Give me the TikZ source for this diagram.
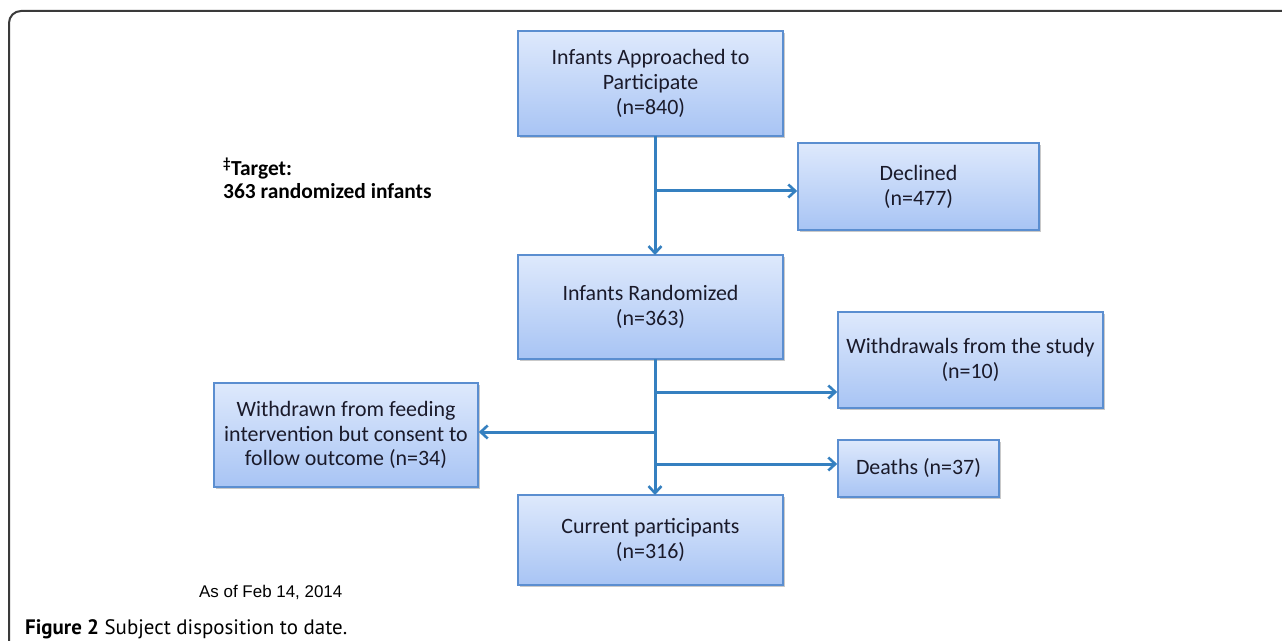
\documentclass[tikz,border=0pt]{standalone}
\usepackage{fontspec}
\setmainfont{Carlito}
\newfontfamily\capfont{PT Sans}
\newfontfamily\arialfont{Liberation Sans}
\usetikzlibrary{arrows.meta,shadows,calc}
\definecolor{boxtop}{HTML}{DEE9FC}
\definecolor{boxbot}{HTML}{A8C4F4}
\definecolor{boxline}{HTML}{5B8ED0}
\definecolor{arrowc}{HTML}{3580C0}
\definecolor{txtc}{HTML}{1A1A2A}
\definecolor{framec}{HTML}{3A3A3A}
\begin{document}
\begin{tikzpicture}[x=1bp,y=-1bp,
  flowbox/.style={draw=boxline, line width=1.6bp, top color=boxtop, bottom color=boxbot,
    align=center, text=txtc, inner sep=0pt,
    font=\fontsize{22}{25}\selectfont,
    drop shadow={shadow xshift=1.5bp, shadow yshift=-2bp, opacity=0.35, fill=black!60}},
  conn/.style={draw=arrowc, line width=3bp, -{Straight Barb[length=7bp,width=13bp,line width=2.6bp]}}]
\useasboundingbox (0,0) rectangle (1282,641);
\fill[white] (0,0) rectangle (1282,641);
% frame
\draw[framec, line width=2bp, rounded corners=12bp] (9,641) -- (9,11) -- (1282,11);
% boxes
\node[flowbox, minimum width=265bp, minimum height=105bp] (app) at (650.5,83.5) {Infants Approached to\\Participate\\(n=840)};
\node[flowbox, minimum width=241bp, minimum height=87bp] (dec) at (918.5,186.5) {Declined\\(n=477)};
\node[flowbox, minimum width=265bp, minimum height=104bp] (rand) at (650.5,307) {Infants Randomized\\(n=363)};
\node[flowbox, minimum width=265bp, minimum height=96bp] (wds) at (970.5,360) {Withdrawals from the study\\(n=10)};
\node[flowbox, minimum width=161bp, minimum height=57bp] (dth) at (918.5,468.5) {Deaths (n=37)};
\node[flowbox, minimum width=264bp, minimum height=104bp] (wfi) at (346,435) {Withdrawn from feeding\\intervention but consent to\\follow outcome (n=34)};
\node[flowbox, minimum width=265bp, minimum height=90bp] (cur) at (650.5,540) {Current participants\\(n=316)};
% junctions
\coordinate (t1) at (655,136);
\coordinate (j1) at (655,191);
\coordinate (b1) at (655,255);
\coordinate (t2) at (655,359);
\coordinate (j2) at (655,392);
\coordinate (j3) at (655,432);
\coordinate (j4) at (655,464);
\coordinate (b2) at (655,495);
% connectors
\draw[conn] (t1) -- (b1);
\draw[conn] (j1) -- (j1 -| dec.west);
\draw[conn] (t2) -- (b2);
\draw[conn] (j2) -- (j2 -| wds.west);
\draw[conn] (j3) -- (j3 -| wfi.east);
\draw[conn] (j4) -- (j4 -| dth.west);
% texts
\node[anchor=base west, inner sep=0pt, font=\bfseries\fontsize{21.5}{22}\selectfont, text=black] (tg1) at (223,176) {\textsuperscript{‡}Target:};
\node[anchor=base west, inner sep=0pt, font=\bfseries\fontsize{21.5}{22}\selectfont, text=black] (tg2) at (223,199) {363 randomized infants};
\node[anchor=base west, inner sep=0pt, font=\arialfont\fontsize{17}{18}\selectfont, text=black] (asof) at (199,597) {As of Feb 14, 2014};
\node[anchor=base west, inner sep=0pt, font=\capfont\fontsize{21}{22}\selectfont, text=black] (cap) at (25,634) {\textbf{Figure 2} Subject disposition to date.};
\end{tikzpicture}
\end{document}
